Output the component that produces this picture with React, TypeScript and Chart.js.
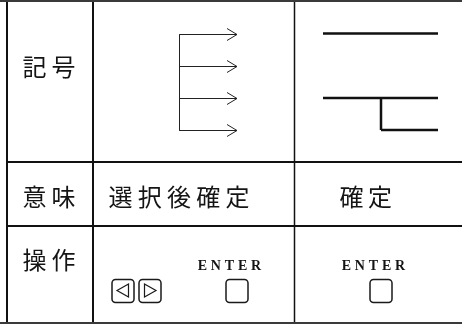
import React, { useEffect, useRef } from 'react';
import { Chart, registerables } from 'chart.js';

Chart.register(...registerables);

const W = 462;
const H = 324;

// table content
const rowLabels = ['記号', '意味', '操作'];
const meanings = ['選択後確定', '確定'];
const keyName = 'ENTER';

// table grid (in diagram units)
const gridVertical = [7, 93];
const thinVertical = [294.5];
const gridHorizontal = [162, 226];
const outerHorizontal = [1, 323];

// symbol 1: a stem with four arrows
const arrowRows = [34.5, 66.5, 98.5, 130.5];
const arrowStem = [179.5];
const arrowTip = [237];

// symbol 2: the confirm symbol
const confirmRows = [33.5, 98, 130];
const confirmSpan = [323, 438];
const confirmDrop = [381];

type P = { x: number; y: number | null };

function segs(list: number[][]): P[] {
  const out: P[] = [];
  list.forEach(([x1, y1, x2, y2]) => {
    out.push({ x: x1, y: y1 }, { x: x2, y: y2 }, { x: x2, y: null });
  });
  return out;
}

export default function App() {
  const ref = useRef<HTMLCanvasElement | null>(null);

  useEffect(() => {
    document.body.style.margin = '0';
    const canvas = ref.current;
    if (!canvas) return;

    const gridSegs: number[][] = [];
    gridVertical.forEach((x) => gridSegs.push([x, 0, x, H]));
    gridHorizontal.forEach((y) => gridSegs.push([gridVertical[0], y, W, y]));
    const thinSegs: number[][] = thinVertical.map((x) => [x, 0, x, H]);
    const outerSegs: number[][] = outerHorizontal.map((y) => [0, y, W, y]);

    const arrowSegs: number[][] = [
      [arrowStem[0], arrowRows[0], arrowStem[0], arrowRows[arrowRows.length - 1]],
    ];
    arrowRows.forEach((y) => {
      arrowSegs.push([arrowStem[0], y, arrowTip[0], y]);
      arrowSegs.push([arrowTip[0] - 10, y - 6, arrowTip[0], y]);
      arrowSegs.push([arrowTip[0] - 10, y + 6, arrowTip[0], y]);
    });

    const confirmSegs: number[][] = [
      [confirmSpan[0], confirmRows[0], confirmSpan[1], confirmRows[0]],
      [confirmSpan[0], confirmRows[1], confirmSpan[1], confirmRows[1]],
      [confirmDrop[0], confirmRows[1], confirmDrop[0], confirmRows[2]],
      [confirmDrop[0], confirmRows[2], confirmSpan[1], confirmRows[2]],
    ];

    const textPlugin = {
      id: 'tableText',
      afterDatasetsDraw(chart: any) {
        const ctx = chart.ctx as CanvasRenderingContext2D;
        const sx = chart.scales.x;
        const sy = chart.scales.y;
        const px = (v: number) => sx.getPixelForValue(v);
        const py = (v: number) => sy.getPixelForValue(v);
        ctx.save();
        ctx.fillStyle = '#141414';
        ctx.strokeStyle = '#1a1a1a';

        const drawSpaced = (s: string, firstCenter: number, pitch: number, cy: number) => {
          Array.from(s).forEach((ch, i) => {
            ctx.fillText(ch, px(firstCenter + i * pitch), py(cy));
          });
        };

        // CJK text
        ctx.font = '400 24px "Noto Sans CJK JP"';
        ctx.textAlign = 'center';
        ctx.textBaseline = 'middle';
        const rowCy = [67, 197, 260];
        rowLabels.forEach((s, i) => drawSpaced(s, 34.5, 29, rowCy[i]));
        drawSpaced(meanings[0], 120.5, 29.25, 197);
        drawSpaced(meanings[1], 351.5, 28.5, 197);

        // ENTER labels
        ctx.font = 'bold 14px "Liberation Serif"';
        ctx.textBaseline = 'alphabetic';
        drawSpaced(keyName, 202.5, 13.4, 269.5);
        drawSpaced(keyName, 346.5, 13.4, 269.5);

        // key caps
        ctx.lineWidth = 1.5;
        const keys = [112, 139, 226, 370];
        keys.forEach((x) => {
          ctx.beginPath();
          (ctx as any).roundRect(px(x), py(279.5), 22, 23, 3.5);
          ctx.stroke();
        });
        // triangles
        ctx.lineWidth = 1.2;
        ctx.beginPath();
        ctx.moveTo(px(117), py(290.5));
        ctx.lineTo(px(128.5), py(284));
        ctx.lineTo(px(128.5), py(297));
        ctx.closePath();
        ctx.stroke();
        ctx.beginPath();
        ctx.moveTo(px(144.5), py(284));
        ctx.lineTo(px(144.5), py(297));
        ctx.lineTo(px(156), py(290.5));
        ctx.closePath();
        ctx.stroke();
        ctx.restore();
      },
    };

    const line = (data: P[], width: number, color: string) => ({
      data,
      showLine: true,
      borderColor: color,
      borderWidth: width,
      pointRadius: 0,
      pointHoverRadius: 0,
      spanGaps: false,
      fill: false,
      tension: 0,
      borderCapStyle: 'butt' as const,
    });

    const chart = new Chart(canvas, {
      type: 'scatter',
      data: {
        datasets: [
          line(segs(outerSegs), 2, '#3a3a3a'),
          line(segs(gridSegs), 2, '#111111'),
          line(segs(thinSegs), 1.5, '#111111'),
          line(segs(arrowSegs), 1, '#222222'),
          line(segs(confirmSegs), 2.5, '#111111'),
        ],
      },
      options: {
        animation: false,
        responsive: false,
        maintainAspectRatio: false,
        devicePixelRatio: 1,
        layout: { padding: 0 },
        plugins: { legend: { display: false }, tooltip: { enabled: false } },
        events: [],
        scales: {
          x: { type: 'linear', min: 0, max: W, display: false },
          y: { type: 'linear', min: 0, max: H, reverse: true, display: false },
        },
      },
      plugins: [textPlugin],
    });
    return () => chart.destroy();
  }, []);

  return (
    <div style={{ width: W, height: H, background: '#fff' }}>
      <canvas ref={ref} width={W} height={H} style={{ display: 'block' }} />
    </div>
  );
}
